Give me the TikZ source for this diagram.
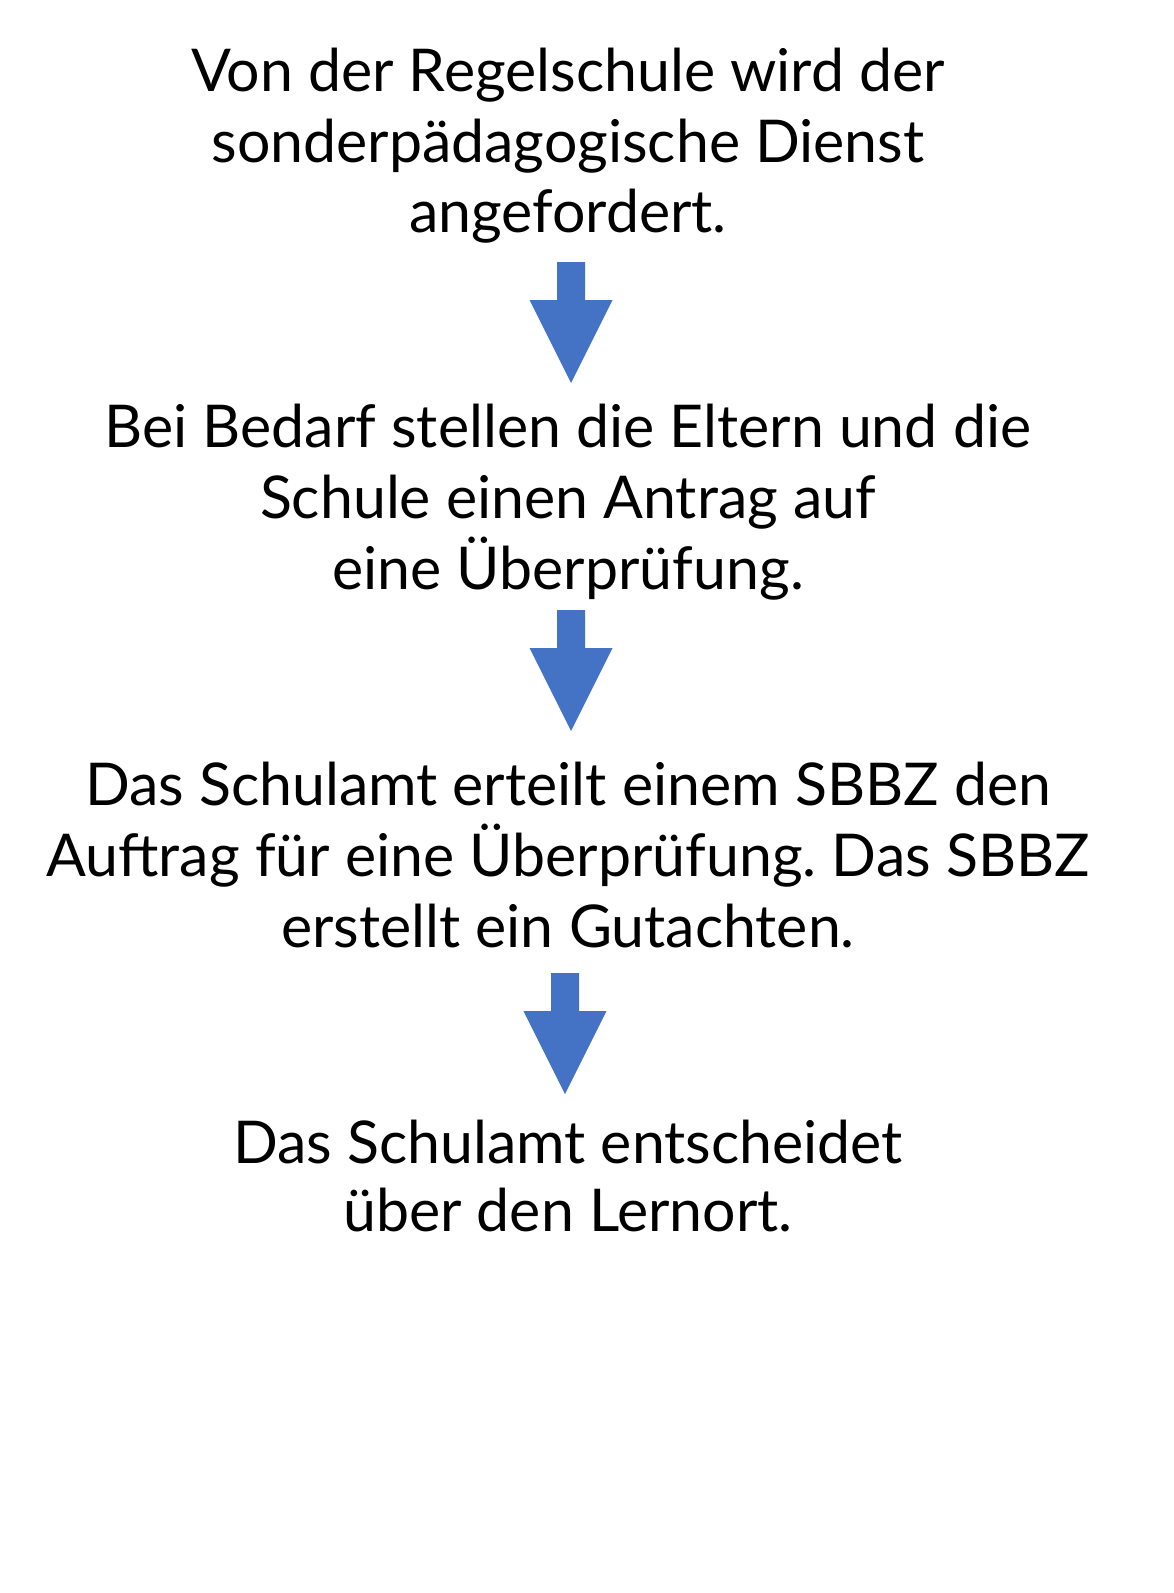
\documentclass[tikz,border=0pt]{standalone}
\usepackage{fontspec}
\setmainfont{Lato}
\frenchspacing
\definecolor{arrowblue}{HTML}{4472C4}
\tikzset{
  txt/.style={anchor=base, inner sep=0pt, font=\fontsize{59}{70}\selectfont, text=black},
  blockarrow/.style={fill=arrowblue, draw=none}
}
\begin{document}
\begin{tikzpicture}[x=1pt,y=1pt]
\useasboundingbox[fill=white] (0,0) rectangle (1173,-1593);
% block 1
\node[txt] (a1) at (568,-91) {Von der Regelschule wird der};
\node[txt] (a2) at (568,-162) {sonderpädagogische Dienst};
\node[txt] (a3) at (568,-232) {angefordert.};
% block 2
\node[txt] (b1) at (568,-447) {Bei Bedarf stellen die Eltern und die};
\node[txt] (b2) at (568,-518) {Schule einen Antrag auf};
\node[txt] (b3) at (568,-589) {eine Überprüfung.};
% block 3
\node[txt] (c1) at (568,-805) {Das Schulamt erteilt einem SBBZ den};
\node[txt] (c2) at (568,-876) {Auftrag für eine Überprüfung. Das SBBZ};
\node[txt] (c3) at (568,-947) {erstellt ein Gutachten.};
% block 4
\node[txt] (d1) at (568,-1163) {Das Schulamt entscheidet};
\node[txt] (d2) at (568,-1231) {über den Lernort.};
% arrows
\coordinate (t1) at (571,-262);
\coordinate (t2) at (571,-610);
\coordinate (t3) at (565,-973);
\foreach \t in {t1,t2,t3}{
  \fill[blockarrow] ([xshift=-14]\t) -- ([xshift=14]\t) -- ([xshift=14,yshift=-38]\t)
    -- ([xshift=41.5,yshift=-38]\t) -- ([yshift=-121]\t) -- ([xshift=-41.5,yshift=-38]\t)
    -- ([xshift=-14,yshift=-38]\t) -- cycle;
}
\end{tikzpicture}
\end{document}
